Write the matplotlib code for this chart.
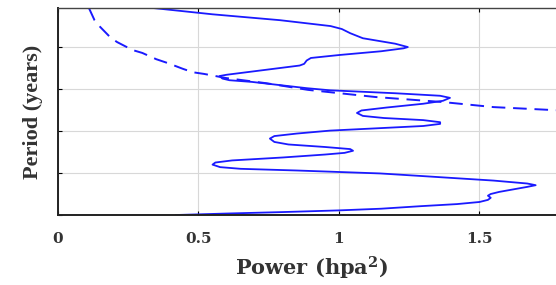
import matplotlib.pyplot as plt

plt.rcParams['font.family'] = ['Liberation Serif', 'DejaVu Serif']
plt.rcParams['mathtext.fontset'] = 'custom'
plt.rcParams['mathtext.rm'] = 'DejaVu Serif:bold'
plt.rcParams['mathtext.it'] = 'DejaVu Serif:bold'
plt.rcParams['mathtext.bf'] = 'DejaVu Serif:bold'

power = [0.42, 0.60, 0.80, 1.00, 1.15, 1.29, 1.42, 1.50, 1.53, 1.54,
         1.53, 1.54, 1.57, 1.62, 1.67, 1.70, 1.67, 1.55, 1.29, 1.146,
         0.85, 0.65, 0.577, 0.55, 0.56, 0.62, 0.80, 0.95, 1.02, 1.05,
         1.04, 0.95, 0.82, 0.77, 0.754, 0.77, 0.85, 0.968, 1.15, 1.30,
         1.36, 1.36, 1.30, 1.16, 1.085, 1.064, 1.08, 1.17, 1.30, 1.37,
         1.395, 1.36, 1.20, 0.968, 0.886, 0.69, 0.61, 0.585, 0.575, 0.60,
         0.73, 0.86, 0.876, 0.885, 0.90, 1.00, 1.15, 1.23, 1.245, 1.20,
         1.085, 1.04, 1.01, 0.97, 0.79, 0.55, 0.31]
period = [0.00, 0.035, 0.07, 0.11, 0.15, 0.21, 0.26, 0.31, 0.36, 0.41,
          0.46, 0.50, 0.55, 0.61, 0.67, 0.71, 0.75, 0.82, 0.93, 0.99,
          1.06, 1.10, 1.14, 1.20, 1.25, 1.30, 1.37, 1.44, 1.48, 1.53,
          1.57, 1.62, 1.68, 1.74, 1.82, 1.88, 1.94, 2.01, 2.07, 2.12,
          2.17, 2.21, 2.26, 2.31, 2.36, 2.43, 2.49, 2.56, 2.65, 2.72,
          2.79, 2.84, 2.90, 2.97, 3.02, 3.17, 3.21, 3.25, 3.31, 3.34,
          3.45, 3.56, 3.60, 3.68, 3.74, 3.81, 3.90, 3.97, 4.00, 4.08,
          4.21, 4.33, 4.43, 4.50, 4.64, 4.78, 4.95]

# significance level (dashed)
sig_power = [0.11, 0.13, 0.15, 0.185, 0.21, 0.265, 0.30, 0.35, 0.39,
             0.445, 0.48, 0.52, 0.60, 0.74, 0.89, 1.13, 1.37, 1.55,
             1.76, 1.80]
sig_period = [4.93, 4.64, 4.48, 4.24, 4.12, 3.93, 3.86, 3.71, 3.62,
              3.48, 3.40, 3.36, 3.26, 3.14, 2.98, 2.81, 2.69, 2.57,
              2.50, 2.49]

xticks = [0, 0.5, 1, 1.5]
xtick_labels = ['0', '0.5', '1', '1.5']

fig = plt.figure(figsize=(5.56, 2.85), dpi=100)
ax = fig.add_axes([0.1043, 0.2456, 0.9097, 0.7263])

ax.plot(power, period, color='#1a1aff', lw=1.3)
ax.plot(sig_power, sig_period, color='#1a1aff', lw=1.4, dashes=(7, 4))

ax.set_xlim(0, 1.8)
ax.set_ylim(0, 4.93)
ax.set_xticks(xticks)
ax.set_xticklabels(xtick_labels, fontweight='bold', fontsize=11,
                   color='#333333', family='DejaVu Serif')
ax.set_yticks([0, 1, 2, 3, 4])
ax.set_yticklabels([])
ax.tick_params(direction='in', length=3, width=0.8, top=True, right=True)
ax.tick_params(axis='x', pad=12)
ax.grid(True, color='#d8d8d8', lw=0.8)
ax.set_axisbelow(True)
for s in ['left', 'bottom']:
    ax.spines[s].set_linewidth(1.4)
    ax.spines[s].set_color('#222222')
ax.spines['top'].set_linewidth(1.0)
ax.spines['top'].set_color('#444444')

ax.set_xlabel(r'Power (hpa$^{2}$)', fontweight='bold', fontsize=15,
              color='#333333', family='DejaVu Serif')
ax.xaxis.set_label_coords(0.501, -0.19)
ax.set_ylabel('Period (years)', fontweight='bold', fontsize=16,
              color='#333333')
ax.yaxis.set_label_coords(-0.03, 0.5)

fig.savefig('out.png', dpi=100)
